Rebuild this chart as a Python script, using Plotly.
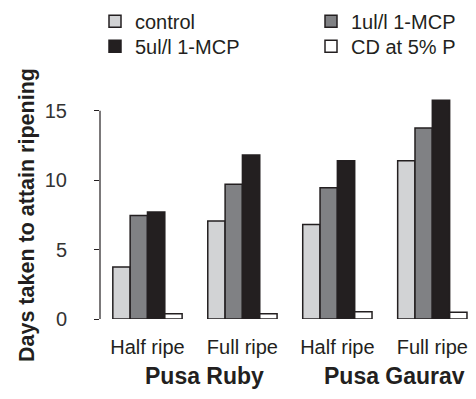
import plotly.graph_objects as go

categories = ["Half ripe", "Full ripe", "Half ripe ", "Full ripe "]
category_text = ["Half ripe", "Full ripe", "Half ripe", "Full ripe"]
varieties = ["Pusa Ruby", "Pusa Gaurav"]

series_names = ["control", "1ul/l 1-MCP", "5ul/l 1-MCP", "CD at 5% P"]
control = [3.75, 7.05, 6.8, 11.4]
mcp_1ul = [7.45, 9.7, 9.45, 13.75]
mcp_5ul = [7.7, 11.8, 11.4, 15.75]
cd_5p = [0.38, 0.38, 0.52, 0.48]
y_ticks = [0, 5, 10, 15]

colors = ["#d2d3d5", "#808184", "#231f20", "#ffffff"]
values = [control, mcp_1ul, mcp_5ul, cd_5p]
legend_ids = ["legend", "legend", "legend2", "legend2"]
ink = "#231f20"

# page body has an 8px margin; figure is sized to end at the window edge
W, H = 468, 391
L, R, T, B = 92, 0, 86, 80
PW, PH = W - L - R, H - T - B


def px_x(p):
    return (p - L) / PW


def px_y(p):
    return 1 - (p - T) / PH


fig = go.Figure()
for name, vals, col, lg in zip(series_names, values, colors, legend_ids):
    fig.add_trace(go.Bar(
        x=categories, y=vals, name=name, legend=lg,
        marker=dict(color=col, line=dict(color=ink, width=1.5)),
    ))

legend_common = dict(
    orientation="h", xanchor="left", yanchor="top",
    entrywidth=171, entrywidthmode="pixels",
    font=dict(size=20, color=ink), bgcolor="rgba(0,0,0,0)",
    borderwidth=0, itemclick=False,
)

fig.update_layout(
    width=W, height=H,
    margin=dict(l=L, r=R, t=T, b=B, autoexpand=False),
    paper_bgcolor="white", plot_bgcolor="white",
    barmode="group", bargap=0.27, bargroupgap=0,
    font=dict(family="Liberation Sans, Arial", color=ink, size=20),
    showlegend=True,
    legend=dict(x=px_x(87), y=px_y(13.7 - 20), **legend_common),
    legend2=dict(x=px_x(87), y=px_y(38.7 - 20), **legend_common),
    xaxis=dict(
        range=[-0.5, 3.46], showgrid=False, showline=False, zeroline=False,
        ticks="", tickfont=dict(size=20, color=ink), ticklabelstandoff=14,
        tickvals=categories, ticktext=category_text,
    ),
    yaxis=dict(
        range=[0, 16.2], showgrid=False, showline=False, zeroline=False,
        tickvals=y_ticks, ticks="outside", ticklen=5, tickwidth=1.2, tickcolor=ink,
        tickfont=dict(size=20, color="#333"), ticklabelstandoff=23,
    ),
    shapes=[dict(type="line", xref="paper", yref="y", x0=0, x1=0,
                 y0=y_ticks[0], y1=y_ticks[-1], line=dict(color=ink, width=1.2))],
)

# y-axis title
fig.add_annotation(
    text="<b>Days taken to attain ripening</b>", textangle=-90,
    xref="paper", yref="paper", x=px_x(19), y=px_y(207),
    xanchor="center", yanchor="middle", showarrow=False,
    font=dict(size=21.5, color=ink),
)
# variety labels
for i, v in enumerate(varieties):
    fig.add_annotation(
        text=f"<b>{v}</b>", xref="x", yref="paper",
        x=2 * i + 0.5, xshift=10, y=px_y(368), yanchor="middle",
        showarrow=False, font=dict(size=23, color=ink),
    )

fig.write_html("out.html")
